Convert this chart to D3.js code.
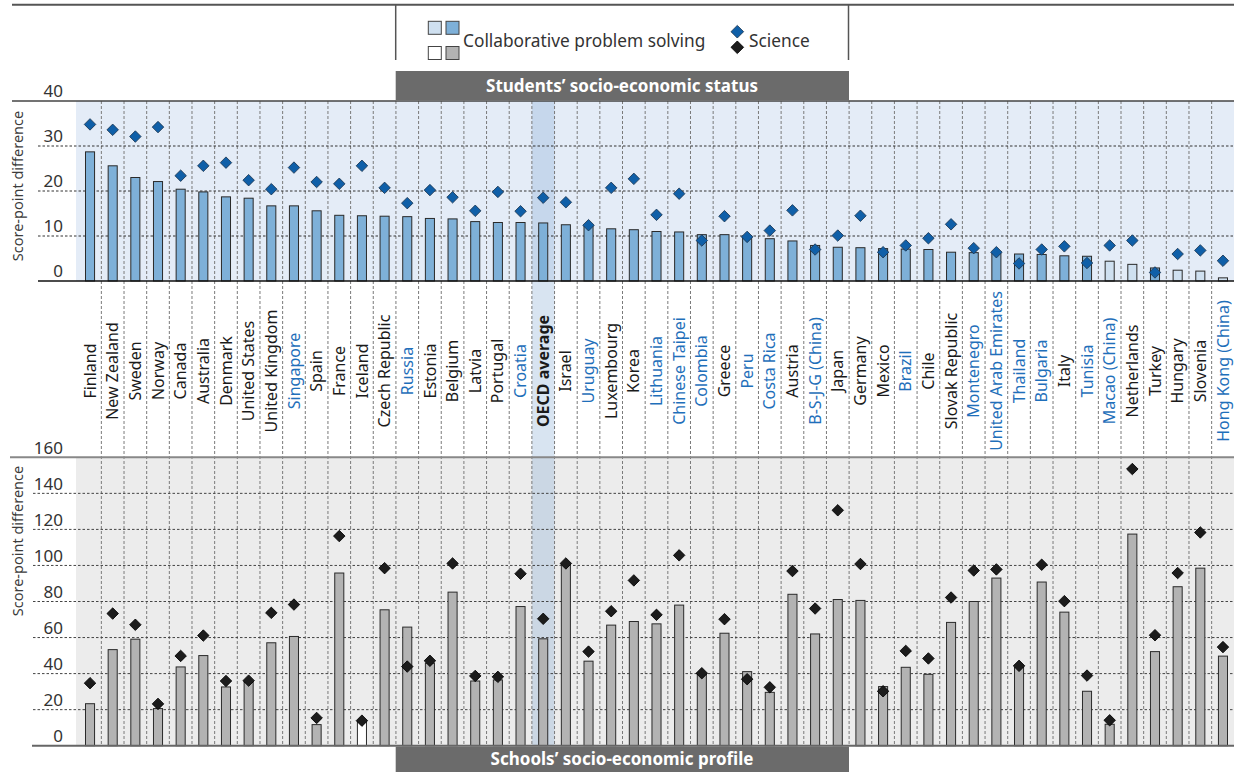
<!DOCTYPE html>
<html>
<head>
<meta charset="utf-8">
<script src="https://cdn.jsdelivr.net/npm/d3@7"></script>
<style>
  body { margin: 0; background: #fff; }
  svg { display: block; font-family: "Noto Sans", sans-serif; }
</style>
</head>
<body>
<div id="chart"></div>
<script>
// countries, in the chart's order
const countries = ["Finland","New Zealand","Sweden","Norway","Canada","Australia","Denmark","United States",
  "United Kingdom","Singapore","Spain","France","Iceland","Czech Republic","Russia","Estonia","Belgium","Latvia",
  "Portugal","Croatia","OECD average","Israel","Uruguay","Luxembourg","Korea","Lithuania","Chinese Taipei",
  "Colombia","Greece","Peru","Costa Rica","Austria","B-S-J-G (China)","Japan","Germany","Mexico","Brazil","Chile",
  "Slovak Republic","Montenegro","United Arab Emirates","Thailand","Bulgaria","Italy","Tunisia","Macao (China)",
  "Netherlands","Turkey","Hungary","Slovenia","Hong Kong (China)"]

// partner economies (blue labels)
const partners = ["Singapore","Russia","Croatia","Uruguay","Lithuania","Chinese Taipei","Colombia","Peru",
  "Costa Rica","B-S-J-G (China)","Brazil","Montenegro","United Arab Emirates","Thailand","Bulgaria","Tunisia",
  "Macao (China)","Hong Kong (China)"]

// students' socio-economic status: score-point difference
const cpsStatus = [28.7,25.6,23.0,22.1,20.4,19.8,18.7,18.4,16.7,16.7,15.6,14.6,14.5,14.4,14.3,
  13.9,13.8,13.2,13.0,13.0,12.9,12.5,12.2,11.6,11.4,11.0,10.9,10.3,10.3,10.0,9.4,8.9,7.9,7.5,7.4,7.2,
  7.1,7.0,6.4,6.3,6.1,6.0,5.9,5.6,5.5,4.4,3.7,2.9,2.4,2.2,0.7]
const sciStatus = [34.8,33.6,32.1,34.2,23.4,25.6,26.3,22.4,20.4,25.2,22.0,21.6,25.6,20.7,17.3,
  20.2,18.6,15.6,19.8,15.5,18.5,17.5,12.4,20.7,22.7,14.7,19.4,9.0,14.4,9.8,11.2,15.7,7.0,10.1,14.5,6.4,
  7.9,9.5,12.6,7.3,6.4,3.9,7.0,7.7,4.0,7.9,9.0,1.9,6.0,6.8,4.5]
// not significant (lighter bar)
const statusNotSig = ["Macao (China)","Netherlands","Hungary","Slovenia","Hong Kong (China)"]

// schools' socio-economic profile: score-point difference
const cpsSchool = [23.3,53.3,59.1,20.6,43.7,50.0,32.6,35.2,57.1,60.6,11.7,95.8,13.4,75.4,65.8,
  45.8,85.2,35.9,36.5,77.2,59.3,100.4,46.9,66.9,68.9,67.6,78.0,39.8,62.4,41.1,29.6,84.0,62.0,81.1,80.6,32.8,
  43.5,39.6,68.4,80.0,93.0,43.5,90.8,74.1,30.2,11.9,117.4,52.2,88.2,98.5,49.7]
const sciSchool = [34.7,73.3,67.1,23.2,49.8,61.1,35.9,36.1,73.7,78.3,15.4,116.3,13.9,98.5,43.9,
  47.1,101.1,38.7,38.2,95.4,70.4,101.1,52.2,74.6,91.7,72.6,105.6,40.2,70.2,36.9,32.4,96.9,76.1,130.6,100.8,30.2,
  52.6,48.4,82.2,97.2,97.8,44.3,100.4,80.2,38.9,14.1,153.5,61.3,95.8,118.3,54.7]
const schoolNotSig = ["Iceland"]

const topTicks = [0,10,20,30,40]
const bottomTicks = [0,20,40,60,80,100,120,140,160]

const W = 1234, H = 772
const right = 1234

const svg = d3.select("#chart").append("svg")
  .attr("width", W).attr("height", H)

var x = d3.scaleBand()
  .domain(countries)
  .range([78.7, 1234.3])
  .padding(0)
const barW = x.bandwidth() * 0.4

var y1 = d3.scaleLinear().domain([0, 40]).range([281, 101])
var y2 = d3.scaleLinear().domain([0, 160]).range([745.7, 457.3])

// backgrounds
svg.append("rect").attr("x", 76).attr("y", y1(40)).attr("width", right - 76)
  .attr("height", y1(0) - y1(40)).attr("fill", "#e4ecf7")
svg.append("rect").attr("x", 76).attr("y", y2(160)).attr("width", right - 76)
  .attr("height", y2(0) - y2(160)).attr("fill", "#ececec")

// OECD average band
svg.append("rect")
  .attr("x", x("OECD average")).attr("y", y1(40))
  .attr("width", x.bandwidth()).attr("height", y2(0) - y1(40))
  .attr("fill", "#8fb3d6").attr("opacity", 0.35)

// vertical dashed separators
svg.append("g").selectAll("line")
  .data(countries.slice(1))
  .join("line")
  .attr("x1", d => x(d)).attr("x2", d => x(d))
  .attr("y1", y1(40)).attr("y2", y2(0))
  .attr("stroke", "#7a7a7a").attr("stroke-width", 1)
  .attr("stroke-dasharray", "3,2")

// horizontal gridlines
svg.append("g").selectAll("line")
  .data(topTicks.filter(d => d > 0 && d < 40))
  .join("line")
  .attr("x1", 38).attr("x2", right)
  .attr("y1", d => y1(d)).attr("y2", d => y1(d))
  .attr("stroke", "#333").attr("stroke-dasharray", "2.5,2")
svg.append("g").selectAll("line")
  .data(bottomTicks.filter(d => d > 0 && d < 160))
  .join("line")
  .attr("x1", 33).attr("x2", right)
  .attr("y1", d => y2(d)).attr("y2", d => y2(d))
  .attr("stroke", "#444").attr("stroke-dasharray", "2.5,2")

// frame lines
svg.append("line").attr("x1", 12).attr("x2", right).attr("y1", 4.7).attr("y2", 4.7)
  .attr("stroke", "#555").attr("stroke-width", 2)
svg.append("line").attr("x1", 12).attr("x2", right).attr("y1", y1(40)).attr("y2", y1(40))
  .attr("stroke", "#444").attr("stroke-width", 1.5)
svg.append("line").attr("x1", 10).attr("x2", right).attr("y1", y2(160)).attr("y2", y2(160))
  .attr("stroke", "#888").attr("stroke-width", 2)

// bars - top panel
svg.append("g").selectAll("rect")
  .data(countries)
  .join("rect")
  .attr("x", d => x(d) + (x.bandwidth() - barW) / 2)
  .attr("y", (d, i) => y1(cpsStatus[i]))
  .attr("width", barW)
  .attr("height", (d, i) => y1(0) - y1(cpsStatus[i]))
  .attr("fill", d => statusNotSig.includes(d) ? "#cfe0f0" : "#7eb0d8")
  .attr("stroke", "#2a2a2a").attr("stroke-width", 1)

// bars - bottom panel
svg.append("g").selectAll("rect")
  .data(countries)
  .join("rect")
  .attr("x", d => x(d) + (x.bandwidth() - barW) / 2)
  .attr("y", (d, i) => y2(cpsSchool[i]))
  .attr("width", barW)
  .attr("height", (d, i) => y2(0) - y2(cpsSchool[i]))
  .attr("fill", d => schoolNotSig.includes(d) ? "#ffffff" : "#b3b3b3")
  .attr("stroke", "#2a2a2a").attr("stroke-width", 1)

// zero lines
svg.append("line").attr("x1", 38).attr("x2", right).attr("y1", y1(0)).attr("y2", y1(0))
  .attr("stroke", "#111").attr("stroke-width", 1.5)
svg.append("line").attr("x1", 32).attr("x2", right).attr("y1", y2(0)).attr("y2", y2(0))
  .attr("stroke", "#666").attr("stroke-width", 2)

// diamonds
const diamond = d3.symbol().type(d3.symbolSquare).size(66)
svg.append("g").selectAll("path")
  .data(countries)
  .join("path")
  .attr("d", diamond)
  .attr("transform", (d, i) => `translate(${x(d) + x.bandwidth() / 2},${y1(sciStatus[i])}) rotate(45)`)
  .attr("fill", "#0f5fa8").attr("stroke", "#1b3550").attr("stroke-width", 0.8)
svg.append("g").selectAll("path")
  .data(countries)
  .join("path")
  .attr("d", diamond)
  .attr("transform", (d, i) => `translate(${x(d) + x.bandwidth() / 2},${y2(sciSchool[i])}) rotate(45)`)
  .attr("fill", "#1c1c1c").attr("stroke", "#000").attr("stroke-width", 0.8)

// y axes (labels sit above the gridlines)
svg.append("g")
  .attr("transform", "translate(63,0)")
  .call(d3.axisLeft(y1).tickValues(topTicks).tickSize(0).tickPadding(0))
  .call(g => g.select(".domain").remove())
  .call(g => g.selectAll("text").attr("dy", "-0.25em")
    .style("font-family", "Noto Sans").style("font-size", "17px").attr("fill", "#333"))
svg.append("g")
  .attr("transform", "translate(63,0)")
  .call(d3.axisLeft(y2).tickValues(bottomTicks).tickSize(0).tickPadding(0))
  .call(g => g.select(".domain").remove())
  .call(g => g.selectAll("text").attr("dy", "-0.25em")
    .style("font-family", "Noto Sans").style("font-size", "17px").attr("fill", "#333"))

// axis titles
;[186, 541].forEach(cy => {
  svg.append("text")
    .attr("transform", `translate(23,${cy}) rotate(-90)`)
    .attr("text-anchor", "middle")
    .style("font-size", "14.5px").style("fill", "#3c3c3c")
    .text("Score-point difference")
})

// country labels
svg.append("g").selectAll("text")
  .data(countries)
  .join("text")
  .attr("transform", d => `translate(${x(d) + x.bandwidth() / 2},371) rotate(-90)`)
  .attr("dy", "0.35em")
  .attr("text-anchor", "middle")
  .style("font-size", "16px")
  .style("font-weight", d => d == "OECD average" ? "bold" : "normal")
  .attr("fill", d => partners.includes(d) ? "#1f6fba" : "#1a1a1a")
  .text(d => d)

// section header bars
function header(y0, h, label) {
  svg.append("rect").attr("x", 395.7).attr("y", y0).attr("width", 849 - 395.7).attr("height", h)
    .attr("fill", "#6b6b6b")
  svg.append("text").attr("x", 622).attr("y", y0 + h / 2).attr("dy", "0.35em")
    .attr("text-anchor", "middle").attr("fill", "#fff")
    .style("font-size", "17px").style("font-weight", "bold")
    .text(label)
}
header(71, y1(40) - 71 - 0.75, "Students\u2019  socio-economic status")
header(746.7, H - 746.7, "Schools\u2019  socio-economic profile")

// legend box
const leg = svg.append("g")
leg.append("line").attr("x1", 395.7).attr("x2", 395.7).attr("y1", 4.7).attr("y2", 60)
  .attr("stroke", "#555").attr("stroke-width", 1.5)
leg.append("line").attr("x1", 848.5).attr("x2", 848.5).attr("y1", 4.7).attr("y2", 60)
  .attr("stroke", "#555").attr("stroke-width", 1.5)
const swatches = [
  {x: 428.3, y: 21.3, c: "#cfe0f0"}, {x: 446, y: 21.3, c: "#7eb0d8"},
  {x: 428.3, y: 46.5, c: "#ffffff"}, {x: 446, y: 46.5, c: "#b3b3b3"}
]
leg.selectAll("rect").data(swatches).join("rect")
  .attr("x", d => d.x).attr("y", d => d.y).attr("width", 13).attr("height", 13)
  .attr("fill", d => d.c).attr("stroke", "#444").attr("stroke-width", 1)
leg.append("text").attr("x", 463).attr("y", 41).attr("dy", "0.35em")
  .style("font-size", "17.3px").attr("fill", "#333").text("Collaborative problem solving")
const legDiamond = d3.symbol().type(d3.symbolSquare).size(80)
leg.append("path").attr("d", legDiamond).attr("transform", "translate(737.3,31.7) rotate(45)")
  .attr("fill", "#0f5fa8").attr("stroke", "#1b3550").attr("stroke-width", 0.8)
leg.append("path").attr("d", legDiamond).attr("transform", "translate(737.3,47.3) rotate(45)")
  .attr("fill", "#1c1c1c").attr("stroke", "#000").attr("stroke-width", 0.8)
leg.append("text").attr("x", 749).attr("y", 41).attr("dy", "0.35em")
  .style("font-size", "17.3px").attr("fill", "#333").text("Science")
</script>
</body>
</html>
